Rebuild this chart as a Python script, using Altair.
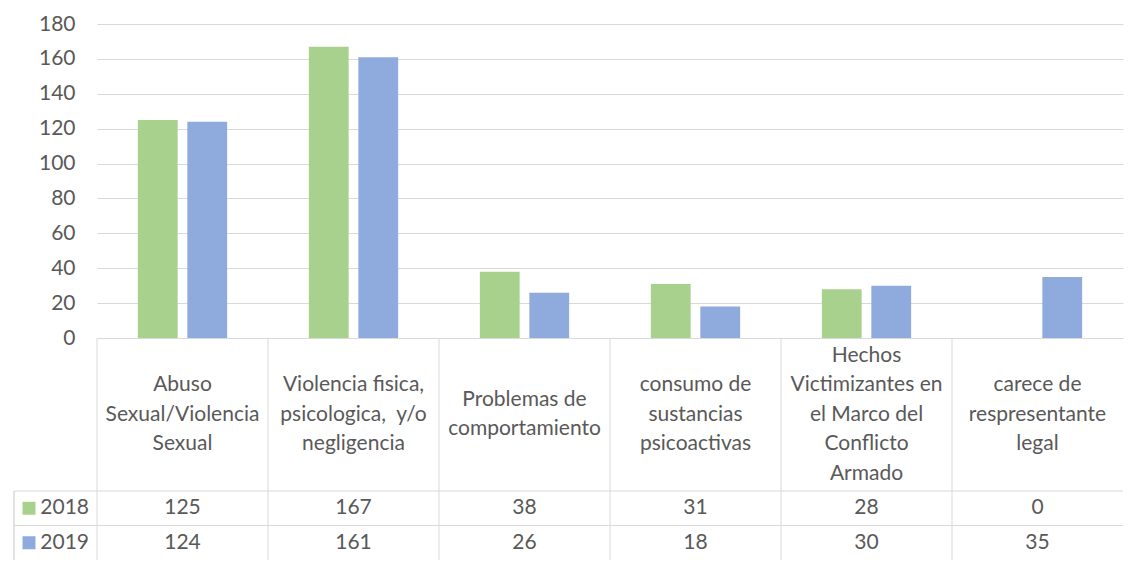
import altair as alt
import pandas as pd

categories = [
    "Abuso\nSexual/Violencia\nSexual",
    "Violencia fisica,\npsicologica,\u00a0 y/o\nnegligencia",
    "Problemas de\ncomportamiento",
    "consumo de\nsustancias\npsicoactivas",
    "Hechos\nVictimizantes en\nel Marco del\nConflicto\nArmado",
    "carece de\nrespresentante\nlegal",
]
years = ["2018", "2019"]
values_2018 = [125, 167, 38, 31, 28, 0]
values_2019 = [124, 161, 26, 18, 30, 35]
colors = ["#A9D18E", "#8FAADC"]

rows = []
for c, a, b in zip(categories, values_2018, values_2019):
    rows.append({"cat": c, "year": "2018", "value": a})
    rows.append({"cat": c, "year": "2019", "value": b})
df = pd.DataFrame(rows)
df_cat = pd.DataFrame({"cat": categories, "nlines": [c.count("\n") + 1 for c in categories]})
df_year = pd.DataFrame({"year": years})

W = 1026
H_PLOT = 314
H_HEAD = 153
H_ROWS = 69
FONT = "Lato"
FS = 21
LH = 29.5
TXT = "#595959"
GRID = "#D9D9D9"

xscale = alt.Scale(domain=categories, paddingInner=0, paddingOuter=0)
color_scale = alt.Scale(domain=years, range=colors)

def X(**kw):
    return alt.X("cat:N", sort=categories, axis=None, scale=xscale, **kw)

bars = alt.Chart(df).mark_bar().encode(
    x=X(),
    xOffset=alt.XOffset("year:N", sort=years,
                        scale=alt.Scale(paddingInner=0.196, paddingOuter=0.825)),
    y=alt.Y("value:Q", scale=alt.Scale(domain=[0, 180], nice=False),
            axis=alt.Axis(values=list(range(0, 181, 20)), grid=True, gridColor=GRID,
                          gridWidth=1, domain=False, ticks=False, labelPadding=22,
                          labelFontSize=FS, labelFont=FONT, labelColor=TXT, title=None)),
    color=alt.Color("year:N", scale=color_scale, legend=None),
).properties(width=W, height=H_PLOT)

head_text = alt.Chart(df_cat).transform_calculate(
    ty=f"{H_HEAD / 2} - (datum.nlines - 1) * {LH} / 2"
).mark_text(
    lineBreak="\n", font=FONT, fontSize=FS, color=TXT, lineHeight=LH, baseline="middle"
).encode(
    x=X(),
    y=alt.Y("ty:Q", axis=None, scale=alt.Scale(domain=[0, H_HEAD], range=[0, H_HEAD])),
    text="cat:N",
)
head_lines = alt.Chart(df_cat).mark_rule(color=GRID, strokeWidth=1).encode(
    x=X(bandPosition=0), y=alt.value(0), y2=alt.value(H_HEAD)
)
header = alt.layer(head_lines, head_text).properties(width=W, height=H_HEAD)

yscale = alt.Scale(domain=years, paddingInner=0, paddingOuter=0)
cell_text = alt.Chart(df).mark_text(font=FONT, fontSize=FS, color=TXT, baseline="middle").encode(
    x=X(), y=alt.Y("year:N", axis=None, scale=yscale), text="value:Q"
)
leg_text = alt.Chart(df_year).mark_text(font=FONT, fontSize=FS, color=TXT, align="right",
                                        baseline="middle").encode(
    x=alt.value(-8), y=alt.Y("year:N", axis=None, scale=yscale), text="year:N"
)
leg_sq = alt.Chart(df_year).mark_square(size=169, opacity=1).encode(
    x=alt.value(-68), y=alt.Y("year:N", axis=None, scale=yscale),
    color=alt.Color("year:N", scale=color_scale, legend=None),
)
h_lines = alt.Chart(df_year).mark_rule(color=GRID, strokeWidth=1).encode(
    y=alt.Y("year:N", axis=None, scale=yscale, bandPosition=0),
    x=alt.value(-83), x2=alt.value(W),
)
v_lines = alt.Chart(df_cat).mark_rule(color=GRID, strokeWidth=1).encode(
    x=X(bandPosition=0), y=alt.value(0), y2=alt.value(H_ROWS)
)
left_line = alt.Chart(df_year).mark_rule(color=GRID, strokeWidth=1).encode(
    x=alt.value(-83), y=alt.value(0), y2=alt.value(H_ROWS)
)
table = alt.layer(h_lines, v_lines, left_line, leg_sq, leg_text, cell_text).properties(
    width=W, height=H_ROWS)

chart = alt.vconcat(bars, header, table, spacing=0, bounds="flush").configure_view(
    stroke=None
).properties(padding={"left": 5, "top": 5, "right": 5, "bottom": 0})

chart.save("out.html", embed_options={"renderer": "svg", "actions": False})
